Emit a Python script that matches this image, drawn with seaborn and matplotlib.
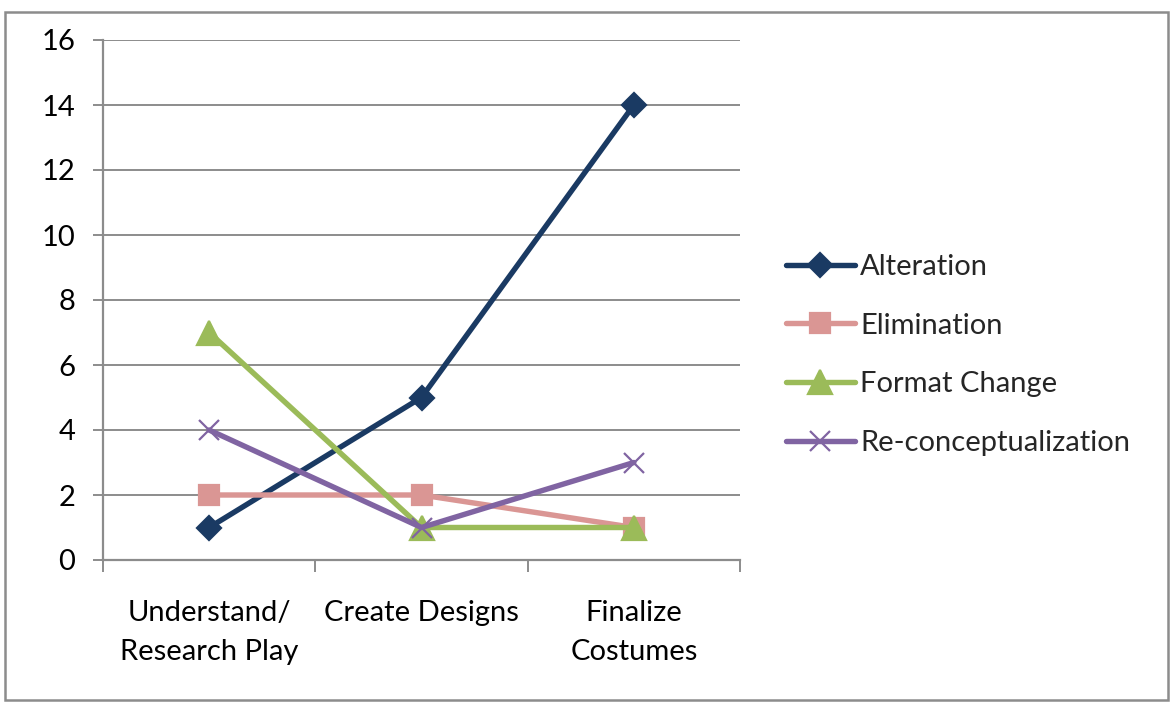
import matplotlib
matplotlib.use("Agg")
import matplotlib.pyplot as plt
from matplotlib.patches import Rectangle
from matplotlib.ticker import FixedLocator
import seaborn as sns
import pandas as pd

# Design-process stages and change counts per category
stages = ["Understand/\nResearch Play", "Create Designs", "Finalize\nCostumes"]
alteration = [1, 5, 14]
elimination = [2, 2, 1]
format_change = [7, 1, 1]
reconceptualization = [4, 1, 3]
series_names = ["Alteration", "Elimination", "Format Change", "Re-conceptualization"]
y_ticks = [0, 2, 4, 6, 8, 10, 12, 14, 16]

colors = ["#1A3A63", "#DA9694", "#9BBB59", "#8064A2"]
marker_styles = ["D", "s", "^", "x"]
marker_sizes = [12.5, 15, 17, 14]

FS = 21

sns.set_theme(style="white")
plt.rcParams["font.family"] = ["Lato", "DejaVu Sans"]

fig = plt.figure(figsize=(11.71, 7.04), dpi=100)
ax = fig.add_axes([103 / 1171, 1 - 560 / 704, (740 - 103) / 1171, (560 - 40) / 704])

series_values = [alteration, elimination, format_change, reconceptualization]
for name, vals, c, m, ms in zip(series_names, series_values, colors, marker_styles, marker_sizes):
    df = pd.DataFrame({"Stage": stages, "Count": vals})
    sns.lineplot(
        data=df, x="Stage", y="Count", color=c, marker=m, markersize=ms,
        markeredgewidth=1.6, markeredgecolor=c, markerfacecolor=c,
        linewidth=3.9, sort=False, ax=ax, label=name,
    )

for line in ax.lines:
    line.set_solid_capstyle("round")

ax.set_xlim(-0.5, 2.5)
ax.set_ylim(0, 16)
ax.set_yticks(y_ticks)
ax.yaxis.grid(True, color="#8C8C8C", linewidth=1.4)
ax.xaxis.grid(False)
ax.set_axisbelow(True)
ax.set_xlabel("")
ax.set_ylabel("")

for side in ["top", "right"]:
    ax.spines[side].set_visible(False)
for side in ["left", "bottom"]:
    ax.spines[side].set_color("#8C8C8C")
    ax.spines[side].set_linewidth(1.6)

ax.tick_params(axis="y", which="major", length=7, width=1.4, color="#8C8C8C",
               labelsize=FS, pad=13, left=True, labelcolor="black")
ax.tick_params(axis="x", which="major", length=0, labelsize=FS, pad=29, labelcolor="black")
ax.xaxis.set_minor_locator(FixedLocator([-0.5, 0.5, 1.5, 2.5]))
ax.tick_params(axis="x", which="minor", length=8.5, width=1.4, color="#8C8C8C", bottom=True)
for lbl in ax.get_xticklabels():
    lbl.set_linespacing(1.6)

handles, labels = ax.get_legend_handles_labels()
for h in handles:
    h.set_solid_capstyle("round")
ax.legend_.remove()
fig.legend(handles, labels, loc="center left", bbox_to_anchor=(786 / 1171, 1 - 355 / 704),
           frameon=False, fontsize=FS, handlelength=2.35, handletextpad=0.2,
           labelspacing=1.12, borderaxespad=0, borderpad=0)

fig.patches.append(Rectangle((5 / 1171, 4 / 704), 1163 / 1171, 688 / 704,
                             transform=fig.transFigure, fill=False,
                             edgecolor="#8C8C8C", linewidth=1.8))

fig.savefig("out.png", dpi=100)
